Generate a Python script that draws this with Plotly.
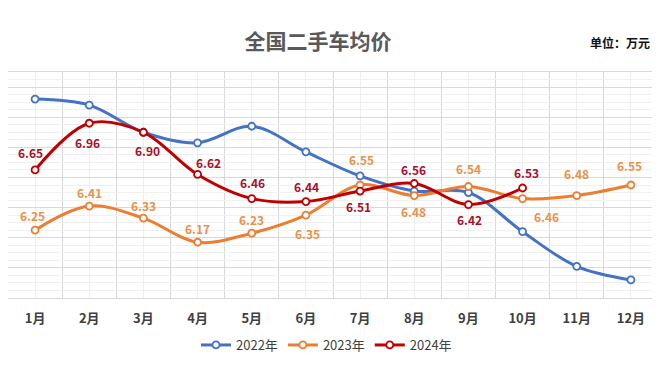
import plotly.graph_objects as go

months = ["1月", "2月", "3月", "4月", "5月", "6月", "7月", "8月", "9月", "10月", "11月", "12月"]
price_2022 = [7.12, 7.08, 6.90, 6.83, 6.94, 6.77, 6.61, 6.51, 6.50, 6.24, 6.01, 5.92]
price_2023 = [6.25, 6.41, 6.33, 6.17, 6.23, 6.35, 6.55, 6.48, 6.54, 6.46, 6.48, 6.55]
price_2024 = [6.65, 6.96, 6.90, 6.62, 6.46, 6.44, 6.51, 6.56, 6.42, 6.53]

# label placement (pixel offsets), style only
off_2023 = [(-3, 15), (0, 14), (0, 13), (0, 14), (0, 14), (2, -18), (1, 26), (-1, -16), (0, 18), (24, -18), (0, 22), (-1, 20)]
off_2024 = [(-5, 17), (-2, -19), (4, -18), (11, 12), (1, 16), (1, 15), (-2, -15), (-1, 14), (1, -15), (4, 16)]

C22, C23, C24 = "#4472C4", "#ED7D31", "#C00000"
L23, L24 = "#E8924A", "#A8102A"
FONT = "Noto Sans CJK SC, Noto Sans, sans-serif"

xs = list(range(len(months)))

fig = go.Figure()
for name, vals, col in [("2022年", price_2022, C22), ("2023年", price_2023, C23), ("2024年", price_2024, C24)]:
    fig.add_trace(go.Scatter(
        x=xs[:len(vals)], y=vals, name=name, mode="lines+markers",
        line=dict(color=col, width=3, shape="spline", smoothing=1.0),
        marker=dict(symbol="circle", size=7, color="white", line=dict(color=col, width=1.8)),
        hoverinfo="skip",
    ))

annotations = []
for vals, offs, col in [(price_2023, off_2023, L23), (price_2024, off_2024, L24)]:
    for i, v in enumerate(vals):
        dx, dy = offs[i]
        annotations.append(dict(
            x=xs[i], y=v, xref="x", yref="y", text=f"{v:.2f}", showarrow=False,
            xshift=dx, yshift=dy, font=dict(family=FONT, size=12, color=col, weight="bold"),
        ))

annotations.append(dict(
    x=612 / 650, y=1 + 30 / 226, xref="paper", yref="paper", text="单位：万元", showarrow=False,
    xanchor="center", yanchor="middle",
    font=dict(family=FONT, size=12, color="#111111", weight="bold"),
))

fig.update_layout(
    width=652, height=357,
    margin=dict(l=0, r=2, t=64, b=67),
    paper_bgcolor="white", plot_bgcolor="white",
    title=dict(text="全国二手车均价", x=310 / 652, xref="container", xanchor="center",
               y=1 - 34 / 357, yref="container", yanchor="middle",
               font=dict(family=FONT, size=21, color="#595959", weight="bold")),
    showlegend=True,
    legend=dict(orientation="h", x=0.49, xanchor="center", y=-0.208, yanchor="middle",
                font=dict(family=FONT, size=13, color="#404040"), itemwidth=30,
                tracegroupgap=0, traceorder="normal"),
    annotations=annotations,
)

fig.update_xaxes(
    range=[-0.5, len(months) - 0.5], tickmode="array", tickvals=xs, ticktext=months,
    showgrid=True, gridcolor="#EEEEEE", gridwidth=1,
    minor=dict(tick0=-0.5, dtick=1, showgrid=True, gridcolor="#D9D9D9", gridwidth=1),
    ticks="outside", ticklen=8, tickcolor="rgba(0,0,0,0)",
    tickfont=dict(family=FONT, size=13, color="#404040", weight="bold"),
    showline=True, linecolor="#D9D9D9", mirror=True, zeroline=False, fixedrange=True,
)
fig.update_yaxes(
    range=[5.8, 7.3], tick0=5.8, dtick=0.2, showticklabels=False,
    showgrid=True, gridcolor="#D9D9D9", gridwidth=1,
    minor=dict(tick0=5.8, dtick=0.05, showgrid=True, gridcolor="#F0F0F0", gridwidth=1),
    showline=True, linecolor="#D9D9D9", mirror=True, zeroline=False, fixedrange=True,
)

fig.write_html("out.html")
